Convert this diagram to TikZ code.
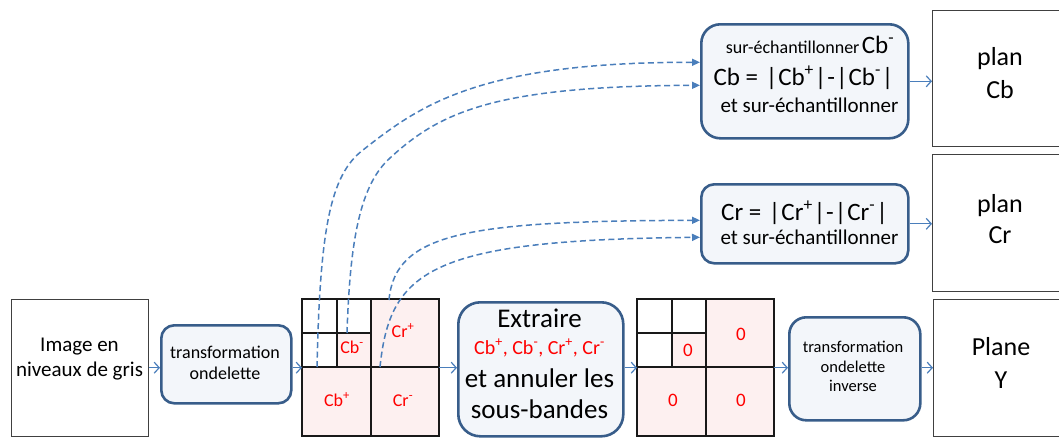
\documentclass[tikz,border=0pt]{standalone}
\usepackage{fontspec}
\setmainfont{Carlito}
\usetikzlibrary{arrows.meta}
\definecolor{boxline}{RGB}{56,93,138}
\definecolor{boxfill}{RGB}{243,246,250}
\definecolor{arrowblue}{RGB}{74,126,187}
\definecolor{cellpink}{RGB}{253,240,240}
\definecolor{txtred}{RGB}{255,0,0}
\newcommand{\myfs}[1]{\fontsize{#1}{#1}\selectfont}
\newcommand{\vb}{\kern1pt|\kern1pt}
\begin{document}
\begin{tikzpicture}[x=1pt,y=-1pt,
  rbox/.style={draw=boxline, line width=2.6pt, fill=boxfill, inner sep=0pt, anchor=north west},
  pbox/.style={draw=black!75, line width=1.2pt, fill=white, inner sep=0pt, anchor=north west},
  gridl/.style={draw=black!90, line width=1.2pt},
  arr/.style={draw=arrowblue, line width=1.2pt, -{Straight Barb[length=5pt,width=11pt]}},
  darr/.style={draw=arrowblue, line width=1.5pt, dash pattern=on 6pt off 3.5pt, -{Triangle[length=8pt,width=7pt]}},
  txt/.style={anchor=base, inner sep=0pt},
  rtxt/.style={anchor=base, inner sep=0pt, text=txtred},
  wgrid/.pic={
    \fill[cellpink] (35,34) rectangle (69,68);
    \fill[cellpink] (69,0) rectangle (137,137);
    \fill[cellpink] (0,68) rectangle (69,137);
    \draw[gridl] (0,0) rectangle (137,137);
    \draw[gridl] (69,0) -- (69,137);
    \draw[gridl] (0,68) -- (137,68);
    \draw[gridl] (35,0) -- (35,68);
    \draw[gridl] (0,34) -- (69,34);
  }
]
\useasboundingbox (0,0) rectangle (1059,437);
\clip (0,0) rectangle (1059,437);

% boxes
\node[pbox, minimum width=137pt, minimum height=137pt] (img) at (11,299) {};
\node[rbox, rounded corners=13pt, minimum width=130pt, minimum height=78pt] (wt) at (160,324) {};
\pic at (302,299) {wgrid};
\node[anchor=north west, inner sep=0pt, minimum width=137pt, minimum height=137pt] (g1) at (302,299) {};
\node[rbox, rounded corners=22pt, minimum width=165pt, minimum height=134pt] (ext) at (457,301) {};
\pic at (637,299) {wgrid};
\node[anchor=north west, inner sep=0pt, minimum width=137pt, minimum height=137pt] (g2) at (637,299) {};
\node[rbox, rounded corners=17pt, minimum width=131pt, minimum height=103pt] (inv) at (788,316) {};
\node[pbox, minimum width=140pt, minimum height=137pt] (py) at (933,299) {};
\node[rbox, rounded corners=19pt, minimum width=207pt, minimum height=114pt] (cbb) at (700,23) {};
\node[rbox, rounded corners=13pt, minimum width=207pt, minimum height=79pt] (crb) at (700,183) {};
\node[pbox, minimum width=140pt, minimum height=136pt] (pcb) at (932,10) {};
\node[pbox, minimum width=140pt, minimum height=137pt] (pcr) at (932,154) {};

% texts
\node[txt, font=\myfs{21}] (t1) at (79.5,351) {Image en};
\node[txt, font=\myfs{21}] (t2) at (79.5,376) {niveaux de gris};
\node[txt, font=\myfs{18}] (t3) at (225,358) {transformation};
\node[txt, font=\myfs{18}] (t4) at (225,379) {ondelette};
\node[txt, font=\myfs{27}] (t5) at (539.5,327) {Extraire};
\node[rtxt, font=\myfs{20}] (t6) at (539.5,354) {Cb\textsuperscript{+}, Cb\textsuperscript{-}, Cr\textsuperscript{+}, Cr\textsuperscript{-}};
\node[txt, font=\myfs{27}] (t7) at (539.5,387) {et annuler les};
\node[txt, font=\myfs{27}] (t8) at (539.5,418) {sous-bandes};
\node[txt, font=\myfs{16.5}] (t9) at (853,352) {transformation};
\node[txt, font=\myfs{16.5}] (t10) at (853,372) {ondelette};
\node[txt, font=\myfs{16.5}] (t11) at (853,391) {inverse};
\node[txt, font=\myfs{26}] (t12) at (1001,355) {Plane};
\node[txt, font=\myfs{26}] (t13) at (1001,388) {Y};
\node[txt] (t14) at (810,53) {{\myfs{18}sur-échantillonner} {\myfs{25}Cb\textsuperscript{-}}};
\node[txt, font=\myfs{25}] (t15) at (804,85) {Cb = \kern1pt\vb Cb\textsuperscript{+}\vb-\vb Cb\textsuperscript{-}\vb};
\node[txt, font=\myfs{21}] (t16) at (809.5,112) {et sur-échantillonner};
\node[txt, font=\myfs{25}] (t17) at (805,220) {Cr = \kern1pt\vb Cr\textsuperscript{+}\vb-\vb Cr\textsuperscript{-}\vb};
\node[txt, font=\myfs{21}] (t18) at (809.5,244) {et sur-échantillonner};
\node[txt, font=\myfs{26}] (t19) at (1000,65) {plan};
\node[txt, font=\myfs{26}] (t20) at (1000,98) {Cb};
\node[txt, font=\myfs{26}] (t21) at (1000,212) {plan};
\node[txt, font=\myfs{26}] (t22) at (1000,243) {Cr};

% grid labels
\node[rtxt, font=\myfs{18}] (l1) at (352,353) {Cb\textsuperscript{-}};
\node[rtxt, font=\myfs{18}] (l2) at (403,337) {Cr\textsuperscript{+}};
\node[rtxt, font=\myfs{18}] (l3) at (337,406) {Cb\textsuperscript{+}};
\node[rtxt, font=\myfs{18}] (l4) at (403,406) {Cr\textsuperscript{-}};
\node[rtxt, font=\myfs{19}] (z1) at (688,356) {0};
\node[rtxt, font=\myfs{19}] (z2) at (741,340) {0};
\node[rtxt, font=\myfs{19}] (z3) at (673,406) {0};
\node[rtxt, font=\myfs{19}] (z4) at (741,406) {0};

% solid arrows
\draw[arr] (img.east |- g1.center) -- (wt.west |- g1.center);
\draw[arr] (wt.east |- g1.center) -- (g1.west);
\draw[arr] (g1.east) -- (ext.west |- g1.center);
\draw[arr] (ext.east |- g1.center) -- (g2.west);
\draw[arr] (g2.east) -- (inv.west |- g1.center);
\draw[arr] (inv.east |- g1.center) -- (py.west |- g1.center);
\draw[arr] (cbb.east) -- (cbb.east -| pcb.west);
\draw[arr] (crb.east) -- (crb.east -| pcr.west);

% dashed curves
\coordinate (s1) at (317,367);
\coordinate (s2) at (347,333);
\coordinate (s3) at (389,300);
\coordinate (s4) at (380,367);
\draw[darr] (s1) .. controls (320,230) and (330,175) .. (363,150) .. controls (420,105) and (480,62) .. ([yshift=19pt]cbb.west);
\draw[darr] (s2) .. controls (350,240) and (360,185) .. (390,158) .. controls (440,112) and (495,86) .. ([yshift=-4pt]cbb.west);
\draw[darr] (s3) .. controls (395,232) and (470,221) .. ([yshift=3.5pt]crb.west);
\draw[darr] (s4) .. controls (390,270) and (430,240) .. ([yshift=-13.5pt]crb.west);
\end{tikzpicture}
\end{document}
